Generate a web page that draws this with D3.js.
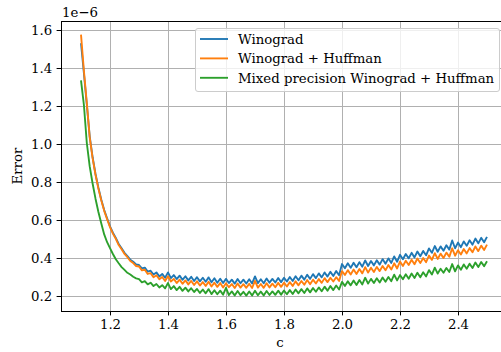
<!DOCTYPE html>
<html>
<head>
<meta charset="utf-8">
<script src="https://cdn.jsdelivr.net/npm/d3@7"></script>
<style>
	body { margin: 0; background: #fff; }
	svg { display: block; font-family: "DejaVu Serif", serif; }
	.tick text { font-size: 13.3px; fill: #000; font-family: "DejaVu Serif", serif; }
	.tick line { stroke: #000; stroke-width: 1; }
	.grid line { stroke: #b0b0b0; stroke-width: 1; }
</style>
</head>
<body>
<div id="chart"></div>
<script>
// c values: 1.10 .. 2.50, step 0.01
var c_start = 1.10;
var c_step = 0.01;

var winograd = [
	1.530, 1.372, 1.208, 1.040, 0.930, 0.842, 0.770, 0.706, 0.652, 0.609,
	0.566, 0.533, 0.505, 0.474, 0.451, 0.427, 0.410, 0.391, 0.380, 0.366,
	0.363, 0.345, 0.349, 0.328, 0.333, 0.313, 0.324, 0.303, 0.316, 0.296,
	0.324, 0.294, 0.310, 0.289, 0.307, 0.285, 0.304, 0.282, 0.301, 0.279,
	0.299, 0.277, 0.296, 0.275, 0.298, 0.272, 0.293, 0.270, 0.291, 0.268,
	0.290, 0.268, 0.286, 0.265, 0.289, 0.267, 0.286, 0.266, 0.288, 0.266,
	0.303, 0.268, 0.288, 0.267, 0.292, 0.270, 0.290, 0.271, 0.295, 0.273,
	0.296, 0.276, 0.300, 0.279, 0.304, 0.283, 0.307, 0.286, 0.312, 0.290,
	0.315, 0.294, 0.319, 0.298, 0.324, 0.302, 0.327, 0.305, 0.331, 0.309,
	0.368, 0.346, 0.372, 0.348, 0.375, 0.351, 0.378, 0.354, 0.387, 0.358,
	0.384, 0.361, 0.388, 0.365, 0.394, 0.370, 0.398, 0.374, 0.408, 0.380,
	0.417, 0.393, 0.421, 0.398, 0.427, 0.403, 0.434, 0.409, 0.437, 0.414,
	0.450, 0.427, 0.463, 0.433, 0.461, 0.438, 0.467, 0.444, 0.492, 0.451,
	0.481, 0.457, 0.487, 0.464, 0.493, 0.470, 0.502, 0.477, 0.506, 0.483,
	0.511
];

var winograd_huffman = [
	1.575, 1.385, 1.215, 1.035, 0.925, 0.838, 0.765, 0.702, 0.648, 0.604,
	0.562, 0.528, 0.501, 0.468, 0.446, 0.421, 0.404, 0.384, 0.373, 0.358,
	0.355, 0.335, 0.338, 0.316, 0.320, 0.299, 0.309, 0.288, 0.300, 0.279,
	0.304, 0.276, 0.290, 0.268, 0.286, 0.264, 0.282, 0.261, 0.279, 0.258,
	0.277, 0.255, 0.273, 0.253, 0.275, 0.250, 0.270, 0.248, 0.268, 0.245,
	0.267, 0.246, 0.263, 0.242, 0.266, 0.244, 0.262, 0.243, 0.264, 0.242,
	0.280, 0.244, 0.263, 0.243, 0.267, 0.245, 0.265, 0.246, 0.269, 0.248,
	0.270, 0.250, 0.273, 0.253, 0.277, 0.256, 0.279, 0.259, 0.284, 0.262,
	0.286, 0.266, 0.289, 0.269, 0.294, 0.273, 0.296, 0.276, 0.299, 0.279,
	0.331, 0.311, 0.336, 0.313, 0.339, 0.316, 0.342, 0.319, 0.352, 0.323,
	0.349, 0.326, 0.353, 0.331, 0.358, 0.335, 0.363, 0.339, 0.372, 0.345,
	0.381, 0.358, 0.385, 0.363, 0.391, 0.367, 0.397, 0.373, 0.400, 0.378,
	0.413, 0.390, 0.425, 0.395, 0.423, 0.400, 0.428, 0.406, 0.451, 0.412,
	0.441, 0.418, 0.447, 0.424, 0.452, 0.430, 0.461, 0.436, 0.465, 0.442,
	0.470
];

var mixed_precision = [
	1.335, 1.205, 1.005, 0.882, 0.792, 0.712, 0.642, 0.581, 0.524, 0.483,
	0.452, 0.421, 0.393, 0.372, 0.352, 0.337, 0.322, 0.313, 0.301, 0.293,
	0.289, 0.272, 0.278, 0.261, 0.270, 0.252, 0.263, 0.245, 0.257, 0.240,
	0.268, 0.236, 0.252, 0.231, 0.248, 0.227, 0.244, 0.224, 0.241, 0.221,
	0.237, 0.216, 0.234, 0.214, 0.236, 0.210, 0.230, 0.209, 0.228, 0.207,
	0.243, 0.205, 0.224, 0.203, 0.226, 0.204, 0.222, 0.202, 0.224, 0.203,
	0.227, 0.204, 0.223, 0.203, 0.226, 0.205, 0.224, 0.206, 0.228, 0.207,
	0.229, 0.209, 0.231, 0.211, 0.234, 0.214, 0.236, 0.216, 0.240, 0.219,
	0.242, 0.222, 0.245, 0.225, 0.249, 0.228, 0.252, 0.231, 0.255, 0.234,
	0.274, 0.253, 0.277, 0.256, 0.281, 0.258, 0.284, 0.261, 0.296, 0.265,
	0.290, 0.268, 0.293, 0.271, 0.297, 0.275, 0.300, 0.278, 0.312, 0.282,
	0.310, 0.288, 0.314, 0.291, 0.318, 0.295, 0.322, 0.298, 0.325, 0.303,
	0.336, 0.313, 0.349, 0.318, 0.343, 0.322, 0.347, 0.326, 0.368, 0.330,
	0.361, 0.338, 0.366, 0.343, 0.370, 0.347, 0.376, 0.352, 0.379, 0.357,
	0.383
];

var series_names = ['Winograd', 'Winograd + Huffman', 'Mixed precision Winograd + Huffman'];
var series_colors = ['#1f77b4', '#ff7f0e', '#2ca02c'];
var x_ticks = [1.2, 1.4, 1.6, 1.8, 2.0, 2.2, 2.4];
var y_ticks = [0.2, 0.4, 0.6, 0.8, 1.0, 1.2, 1.4, 1.6];

var width = 501;
var height = 352;
// plot area edges (right edge falls outside the picture, as in the original)
var plot_l = 61, plot_r = 507, plot_t = 21, plot_b = 311;
var font_size = '13.3px';

var svg = d3.select('#chart').append('svg')
	.attr('width', width)
	.attr('height', height);

svg.append('rect').attr('width', width).attr('height', height).attr('fill', '#fff');

var xScale = d3.scaleLinear().domain([1.031, 2.569]).range([plot_l, plot_r]);
var yScale = d3.scaleLinear().domain([0.121, 1.647]).range([plot_b, plot_t]);

// grid
var grid = svg.append('g').attr('class', 'grid');
grid.selectAll('.vx').data(x_ticks).enter().append('line')
	.attr('x1', function (d) { return Math.round(xScale(d)) + 0.5; })
	.attr('x2', function (d) { return Math.round(xScale(d)) + 0.5; })
	.attr('y1', plot_t).attr('y2', plot_b);
grid.selectAll('.hy').data(y_ticks).enter().append('line')
	.attr('y1', function (d) { return Math.round(yScale(d)) + 0.5; })
	.attr('y2', function (d) { return Math.round(yScale(d)) + 0.5; })
	.attr('x1', plot_l).attr('x2', plot_r);

// lines
var allSeries = [winograd, winograd_huffman, mixed_precision];
var line = d3.line()
	.x(function (d, i) { return xScale(c_start + i * c_step); })
	.y(function (d) { return yScale(d); });

svg.selectAll('.series').data(allSeries).enter().append('path')
	.attr('class', 'series')
	.attr('d', line)
	.attr('fill', 'none')
	.attr('stroke', function (d, i) { return series_colors[i]; })
	.attr('stroke-width', 1.875)
	.attr('stroke-linejoin', 'round');

// axes
var xAxis = d3.axisBottom(xScale).tickValues(x_ticks).tickSize(4.4).tickPadding(4.4)
	.tickFormat(d3.format('.1f'));
var yAxis = d3.axisLeft(yScale).tickValues(y_ticks).tickSize(4.4).tickPadding(4.4)
	.tickFormat(d3.format('.1f'));

var gx = svg.append('g').attr('transform', 'translate(0,' + plot_b + ')').call(xAxis);
var gy = svg.append('g').attr('transform', 'translate(' + plot_l + ',0)').call(yAxis);
gx.select('.domain').remove();
gy.select('.domain').remove();
gx.selectAll('.tick').attr('transform', function (d) { return 'translate(' + (Math.round(xScale(d)) + 0.5) + ',0)'; });
gy.selectAll('.tick').attr('transform', function (d) { return 'translate(0,' + (Math.round(yScale(d)) + 0.5) + ')'; });

// spines
svg.append('rect')
	.attr('x', plot_l + 0.5).attr('y', plot_t + 0.5)
	.attr('width', plot_r - plot_l).attr('height', plot_b - plot_t)
	.attr('fill', 'none').attr('stroke', '#000').attr('stroke-width', 1);

// offset text
svg.append('text')
	.attr('x', plot_l + 1).attr('y', 17)
	.style('font-size', font_size)
	.text('1e\u22126');

// axis labels
svg.append('text')
	.attr('x', (plot_l + plot_r) / 2 - 4).attr('y', 347)
	.attr('text-anchor', 'middle')
	.style('font-size', font_size)
	.text('c');

svg.append('text')
	.attr('transform', 'translate(22,' + ((plot_t + plot_b) / 2) + ') rotate(-90)')
	.attr('text-anchor', 'middle')
	.style('font-size', font_size)
	.text('Error');

// legend
var legend = svg.append('g').attr('transform', 'translate(195,28)');
legend.append('rect')
	.attr('x', 0.5).attr('y', 0.5)
	.attr('width', 304).attr('height', 63)
	.attr('rx', 2.5).attr('ry', 2.5)
	.attr('fill', '#fff').attr('fill-opacity', 0.8)
	.attr('stroke', '#cccccc').attr('stroke-width', 1);

var items = legend.selectAll('.item').data(series_names).enter().append('g')
	.attr('transform', function (d, i) { return 'translate(0,' + (11 + i * 19.4) + ')'; });
items.append('line')
	.attr('x1', 5).attr('x2', 33)
	.attr('stroke', function (d, i) { return series_colors[i]; })
	.attr('stroke-width', 1.875);
items.append('text')
	.attr('x', 43).attr('y', 4.7)
	.style('font-size', font_size)
	.text(function (d) { return d; });
</script>
</body>
</html>
